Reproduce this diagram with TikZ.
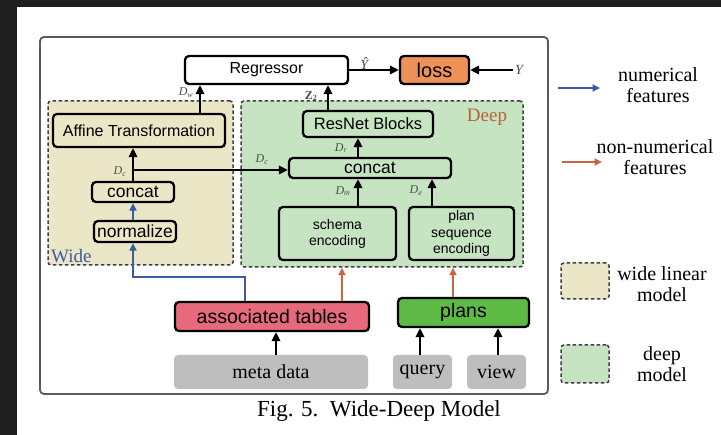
\documentclass[tikz,border=0pt]{standalone}
\usepackage{fontspec}
\setmainfont{Liberation Serif}
\setsansfont{Liberation Sans}
\usetikzlibrary{arrows.meta}

\definecolor{bgdark}{HTML}{1E1E1E}
\definecolor{framegrey}{HTML}{5A5A5A}
\definecolor{widefill}{HTML}{EBE7C6}
\definecolor{deepfill}{HTML}{C6E4C1}
\definecolor{lossfill}{HTML}{EE9156}
\definecolor{assocfill}{HTML}{E76A7C}
\definecolor{plansfill}{HTML}{5DBA44}
\definecolor{srcgrey}{HTML}{BEBEBE}
\definecolor{numblue}{HTML}{3C5BA6}
\definecolor{catorange}{HTML}{C8653F}
\definecolor{deeptext}{HTML}{B8603A}

\newcommand\fsz[2]{\fontsize{#1}{#2}\selectfont}

\tikzset{
  blk/.style={draw=black, line width=2.3pt, rounded corners=4pt, inner sep=0pt, font=\sffamily},
  region/.style={draw=black!75, dash pattern=on 3.5pt off 2.5pt, line width=1.5pt, rounded corners=3pt, inner sep=0pt},
  srcbox/.style={fill=srcgrey, rounded corners=4pt, inner sep=0pt, font=\fsz{20}{22}},
  flow/.style={-{Triangle[length=9pt,width=8.5pt]}, line width=2pt},
  feat/.style={-{Triangle[length=7.5pt,width=7pt]}, line width=1.8pt},
  dimlab/.style={inner sep=0pt, text=black!70, font=\fsz{12}{13}},
  legtext/.style={align=center, font=\fsz{20}{21}},
}

\begin{document}
\begin{tikzpicture}[x=1pt,y=-1pt]
  % page and backdrop
  \useasboundingbox (0,0) rectangle (721,435);
  \fill[bgdark] (0,0) rectangle (721,435);
  \fill[white] (17,7) rectangle (721,435);

  % outer frame
  \draw[framegrey, line width=1.8pt, rounded corners=4pt] (40,37) rectangle (548,394);

  % model regions
  \node[region, fill=widefill, minimum width=185pt, minimum height=164pt] (wide) at (140.5,183) {};
  \node[region, fill=deepfill, minimum width=282pt, minimum height=166pt] (deep) at (382,184) {};
  \node[text=numblue, font=\fsz{19}{20}, anchor=west, inner sep=0pt] (widelab) at (51,256) {Wide};
  \node[text=deeptext, font=\fsz{19}{20}, inner sep=0pt] (deeplab) at (487,117) {Deep};

  % top row
  \node[blk, fill=white, minimum width=163pt, minimum height=28pt, font=\sffamily\fsz{16}{18}] (reg) at (266.5,70) {Regressor};
  \node[blk, fill=lossfill, minimum width=69pt, minimum height=28pt, font=\sffamily\fsz{20}{22}] (loss) at (434.5,70) {loss};

  % wide part
  \node[blk, fill=widefill, minimum width=172pt, minimum height=33pt, font=\sffamily\fsz{16}{18}] (affine) at (139,130.5) {Affine Transformation};
  \node[blk, fill=widefill, minimum width=82pt, minimum height=20pt, font=\sffamily\fsz{17.5}{19}] (wconcat) at (133,192) {concat};
  \node[blk, fill=widefill, minimum width=82pt, minimum height=21pt, font=\sffamily\fsz{17.5}{19}] (wnorm) at (135,231.5) {normalize};

  % deep part
  \node[blk, fill=deepfill, minimum width=130pt, minimum height=26pt, font=\sffamily\fsz{16.5}{18}] (resnet) at (368,124) {ResNet Blocks};
  \node[blk, fill=deepfill, minimum width=162pt, minimum height=20pt, font=\sffamily\fsz{17.5}{19}] (dconcat) at (370,168) {concat};
  \node[blk, fill=deepfill, minimum width=117pt, minimum height=53pt, align=center, font=\sffamily\fsz{14}{16}] (schema) at (337.5,233.5) {schema\\encoding};
  \node[blk, fill=deepfill, minimum width=105pt, minimum height=53pt, align=center, font=\sffamily\fsz{14}{16.5}] (planseq) at (461.5,233.5) {plan\\sequence\\encoding};

  % inputs
  \node[blk, fill=assocfill, minimum width=194pt, minimum height=29pt, font=\sffamily\fsz{19.5}{21}] (assoc) at (272,316.5) {associated tables};
  \node[blk, fill=plansfill, minimum width=131pt, minimum height=29pt, font=\sffamily\fsz{19.5}{21}] (plans) at (463.5,312.5) {plans};
  \node[srcbox, minimum width=194pt, minimum height=34pt] (meta) at (271,372) {meta data};
  \node[srcbox, minimum width=59pt, minimum height=34pt] (query) at (422.5,372) {query};
  \node[srcbox, minimum width=59pt, minimum height=34pt] (view) at (496.5,372) {view};

  % connector columns
  \coordinate (xaff) at (200,0);
  \coordinate (xres) at (328,0);
  \coordinate (xmid) at (358,0);
  \coordinate (xpe) at (432,0);
  \coordinate (xmeta) at (276,0);
  \coordinate (xq) at (420,0);
  \coordinate (xv) at (498,0);
  \coordinate (xblue) at (245,0);
  \coordinate (xso) at (342,0);
  \coordinate (xpo) at (453,0);
  \coordinate (split) at (133,170);
  \coordinate (bend) at (133,277);
  \coordinate (yin) at (513,70);

  % main flow
  \draw[flow] (affine.north -| xaff) -- (reg.south -| xaff);
  \draw[flow] (resnet.north -| xres) -- (reg.south -| xres);
  \draw[flow] (reg.east) -- (loss.west);
  \draw[flow] (yin) -- (loss.east);
  \draw[flow] (wconcat.north -| split) -- (affine.south -| split);
  \draw[flow] (split) -- (split -| dconcat.west);
  \draw[flow] (dconcat.north -| xmid) -- (resnet.south -| xmid);
  \draw[flow] (schema.north -| xmid) -- (dconcat.south -| xmid);
  \draw[flow] (planseq.north -| xpe) -- (dconcat.south -| xpe);
  \draw[flow] (meta.north -| xmeta) -- (assoc.south -| xmeta);
  \draw[flow] (query.north -| xq) -- (plans.south -| xq);
  \draw[flow] (view.north -| xv) -- (plans.south -| xv);

  % feature flows
  \draw[feat, numblue] (wnorm.north -| split) -- (wconcat.south -| split);
  \draw[feat, numblue] (assoc.north -| xblue) |- (bend) -- (wnorm.south -| bend);
  \draw[feat, catorange] (assoc.north -| xso) -- (deep.south -| xso);
  \draw[feat, catorange] (plans.north -| xpo) -- (deep.south -| xpo);

  % dimension labels
  \node[dimlab] (lw) at (186,93) {\textit{D}\textsubscript{\textit{w}}};
  \node[dimlab] (lz) at (311,96) {\textbf{Z}\textsubscript{\textbf{2}}};
  \node[dimlab] (lcw) at (120,172) {\textit{D}\textsubscript{\textit{c}}};
  \node[dimlab] (lcd) at (262,160) {\textit{D}\textsubscript{\textit{c}}};
  \node[dimlab] (lr) at (341,148) {\textit{D}\textsubscript{\textit{r}}};
  \node[dimlab] (lm) at (343,191) {\textit{D}\textsubscript{\textit{m}}};
  \node[dimlab] (le) at (416,191) {\textit{D}\textsubscript{\textit{e}}};
  \node[dimlab, font=\fsz{14}{15}] (lyhat) at (365,63) {\textit{Ŷ}};
  \node[dimlab, font=\fsz{14}{15}, anchor=west] (ly) at (515,70) {\textit{Y}};

  % legend
  \coordinate (nb0) at (558,88);
  \coordinate (nb1) at (600,88);
  \coordinate (no0) at (562,162);
  \coordinate (no1) at (602,162);
  \draw[feat, numblue] (nb0) -- (nb1);
  \draw[feat, catorange] (no0) -- (no1);
  \node[legtext] (tnum) at (658,85) {numerical\\features};
  \node[legtext] (tcat) at (655,157) {non-numerical\\features};
  \node[region, fill=widefill, minimum width=48pt, minimum height=36pt] (legwide) at (585,281) {};
  \node[region, fill=deepfill, minimum width=48pt, minimum height=38pt] (legdeep) at (585,364) {};
  \node[legtext] (twide) at (662,284) {wide linear\\model};
  \node[legtext] (tdeep) at (662,364) {deep\\model};

  % caption
  \node[font=\fsz{23}{25}] (caption) at (379,411) {Fig. 5.\ \ Wide-Deep Model};
\end{tikzpicture}
\end{document}
